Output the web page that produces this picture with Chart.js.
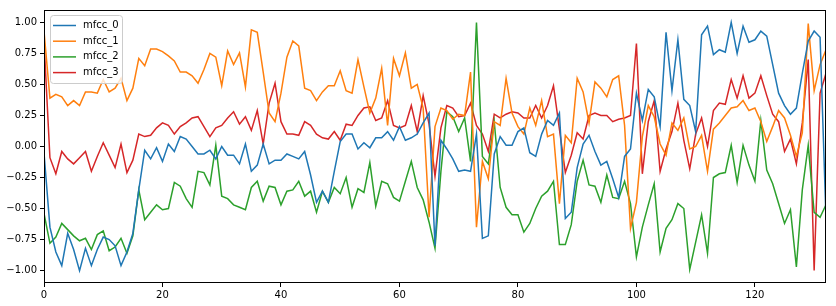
<!DOCTYPE html>
<html>
<head>
<meta charset="utf-8">
<script src="https://cdn.jsdelivr.net/npm/chart.js@4.4.1/dist/chart.umd.min.js"></script>
<style>
  html, body { margin: 0; padding: 0; background: #fff; }
  #wrap { width: 836px; height: 306px; }
</style>
</head>
<body>
<div id="wrap"><canvas id="mfccChart" width="836" height="306"></canvas></div>
<script>
// frame values (frames 0..132)
const mfcc0 = [-0.05,-0.65,-0.85,-0.96,-0.70,-0.83,-1.00,-0.82,-0.96,-0.83,-0.73,-0.75,-0.80,-0.96,-0.85,-0.70,-0.35,
  -0.03,-0.10,-0.01,-0.12,0.02,-0.04,0.08,0.06,0.00,-0.06,-0.06,-0.03,-0.10,0.00,-0.07,-0.07,-0.14,
  0.02,-0.20,-0.15,0.02,-0.14,-0.11,-0.11,-0.06,-0.08,-0.10,-0.04,-0.23,-0.45,-0.36,-0.45,-0.20,0.04,
  0.10,0.10,-0.02,0.03,-0.01,0.07,0.07,0.12,0.05,0.16,0.05,0.07,0.10,0.19,0.27,-0.80,
  0.05,-0.02,-0.10,-0.20,-0.19,-0.20,0.10,-0.74,-0.72,-0.06,0.08,0.01,0.01,0.12,0.15,-0.05,-0.08,
  0.10,0.21,0.17,0.27,-0.58,-0.53,-0.17,0.02,0.09,-0.04,-0.15,-0.12,-0.26,-0.41,-0.08,-0.02,0.43,
  0.21,0.46,0.40,0.16,0.92,0.45,0.86,0.38,0.33,0.12,0.90,0.97,0.74,0.78,0.76,1.00,
  0.75,0.97,0.84,0.86,0.93,0.89,0.66,0.43,0.33,0.26,0.31,0.59,0.85,0.93,0.88,-0.58];

const mfcc1 = [0.93,0.39,0.42,0.40,0.33,0.37,0.33,0.44,0.44,0.43,0.54,0.44,0.47,0.55,0.37,0.47,0.71,
  0.65,0.785,0.785,0.765,0.73,0.69,0.60,0.60,0.57,0.51,0.62,0.75,0.72,0.49,0.77,0.66,0.755,
  0.48,0.94,0.92,0.60,0.27,0.20,0.43,0.72,0.85,0.81,0.47,0.45,0.37,0.44,0.49,0.49,0.61,
  0.45,0.43,0.70,0.48,0.27,0.39,0.63,0.17,0.71,0.57,0.755,0.47,0.50,0.31,-0.57,0.16,
  0.31,0.29,0.22,0.26,0.25,0.60,-0.65,-0.12,-0.26,0.20,0.17,0.55,0.27,0.16,0.10,0.31,0.17,
  0.37,0.08,0.10,-0.46,0.09,0.03,0.55,0.44,0.19,0.52,0.47,0.40,0.54,0.57,0.17,-0.66,-0.45,
  0.08,0.33,0.24,0.02,-0.07,0.19,0.13,0.23,-0.02,0.00,0.09,-0.20,0.14,0.19,0.25,0.31,
  0.32,0.37,0.29,0.31,0.20,0.04,0.16,0.29,0.23,0.09,-0.08,0.11,0.99,0.45,0.66,0.78];

const mfcc2 = [-0.54,-0.78,-0.73,-0.62,-0.67,-0.72,-0.76,-0.74,-0.83,-0.71,-0.68,-0.84,-0.81,-0.74,-0.86,-0.72,-0.35,
  -0.59,-0.53,-0.47,-0.51,-0.50,-0.29,-0.32,-0.42,-0.49,-0.20,-0.21,-0.31,0.01,-0.40,-0.42,-0.47,-0.49,
  -0.51,-0.33,-0.28,-0.44,-0.32,-0.33,-0.47,-0.36,-0.35,-0.28,-0.40,-0.36,-0.53,-0.36,-0.45,-0.33,-0.38,
  -0.25,-0.49,-0.34,-0.37,-0.13,-0.48,-0.28,-0.30,-0.41,-0.44,-0.28,-0.12,-0.33,-0.43,-0.61,-0.82,
  -0.20,0.28,0.24,0.12,0.23,-0.12,1.00,-0.08,-0.14,0.20,-0.33,-0.49,-0.55,-0.55,-0.69,-0.62,-0.50,
  -0.40,-0.36,-0.28,-0.79,-0.79,-0.63,-0.28,-0.11,-0.31,-0.32,-0.45,-0.23,-0.41,-0.42,-0.28,-0.46,-0.89,
  -0.65,-0.47,-0.30,-0.85,-0.66,-0.59,-0.46,-0.50,-0.99,-0.77,-0.55,-0.86,-0.25,-0.22,-0.21,0.01,
  -0.29,0.01,-0.15,-0.28,0.21,-0.19,-0.30,-0.46,-0.62,-0.51,-0.97,-0.35,0.01,-0.53,-0.57,-0.47];

const mfcc3 = [0.85,-0.09,-0.22,-0.04,-0.10,-0.14,-0.09,-0.04,-0.20,-0.08,0.03,-0.07,-0.17,0.02,-0.21,-0.11,0.10,
  0.08,0.09,0.15,0.19,0.17,0.10,0.16,0.19,0.23,0.24,0.16,0.08,0.15,0.17,0.23,0.28,0.18,
  0.24,0.13,0.29,0.02,0.35,0.51,0.20,0.10,0.10,0.09,0.20,0.17,0.10,0.07,0.06,0.12,0.05,
  0.18,0.17,0.25,0.31,0.32,0.21,0.23,0.37,0.17,0.15,0.17,0.33,0.12,0.41,0.18,-0.24,
  0.15,0.33,0.31,0.24,0.25,0.35,0.17,0.10,-0.04,0.26,0.23,0.26,0.28,0.27,0.23,0.23,0.33,
  0.23,0.33,0.49,0.14,-0.21,-0.07,0.11,0.06,0.25,0.27,0.25,0.25,0.20,0.22,0.23,0.25,0.83,
  -0.22,0.20,0.37,-0.20,-0.02,0.12,0.35,0.05,-0.18,0.10,0.23,0.00,0.29,0.35,0.34,0.54,
  0.39,0.57,0.39,0.43,0.57,0.41,0.26,0.20,-0.04,0.06,-0.14,0.19,0.70,-1.00,0.43,0.59];

const seriesNames = ['mfcc_0', 'mfcc_1', 'mfcc_2', 'mfcc_3'];
const seriesColors = ['#1f77b4', '#ff7f0e', '#2ca02c', '#d62728'];
const xTicks = [0, 20, 40, 60, 80, 100, 120];
const yTicks = [-1, -0.75, -0.5, -0.25, 0, 0.25, 0.5, 0.75, 1];

const FONT = '"DejaVu Sans", sans-serif';

function toPoints(arr) {
    return arr.map((v, i) => ({ x: i, y: v }));
}

// box around the plot like matplotlib spines
const frame = {
    id: 'frame',
    afterDatasetsDraw(chart) {
        const a = chart.chartArea;
        const c = chart.ctx;
        c.save();
        c.strokeStyle = '#000';
        c.lineWidth = 1;
        c.strokeRect(a.left + 0.5, a.top + 0.5, a.right - a.left - 1, a.bottom - a.top - 1);
        c.restore();
    }
};

// legend inside the upper left corner
const legendBox = {
    id: 'legendBox',
    afterDraw(chart) {
        const a = chart.chartArea;
        const c = chart.ctx;
        const x = a.left + 6, y = a.top + 5, w = 72, h = 68;
        c.save();
        c.fillStyle = 'rgba(255,255,255,0.8)';
        c.strokeStyle = '#cccccc';
        c.lineWidth = 1;
        c.beginPath();
        c.roundRect(x + 0.5, y + 0.5, w, h, 3);
        c.fill();
        c.stroke();
        c.font = '10px ' + FONT;
        c.textBaseline = 'middle';
        chart.data.datasets.forEach((ds, i) => {
            const ly = y + 10.5 + i * 15.7;
            c.strokeStyle = ds.borderColor;
            c.lineWidth = 1.5;
            c.beginPath();
            c.moveTo(x + 3, ly);
            c.lineTo(x + 26, ly);
            c.stroke();
            c.fillStyle = '#000';
            c.fillText(ds.label, x + 33, ly);
        });
        c.restore();
    }
};

const allSeries = [mfcc0, mfcc1, mfcc2, mfcc3];

const ctx = document.getElementById('mfccChart').getContext('2d');
const chart = new Chart(ctx, {
    type: 'line',
    data: {
        datasets: allSeries.map((arr, i) => ({
            label: seriesNames[i],
            data: toPoints(arr),
            borderColor: seriesColors[i],
            backgroundColor: seriesColors[i],
            borderWidth: 1.5,
            pointRadius: 0,
            tension: 0,
            fill: false
        }))
    },
    options: {
        responsive: false,
        animation: false,
        devicePixelRatio: 1,
        layout: { padding: { top: 10, right: 10, left: 0, bottom: 0 } },
        plugins: { legend: { display: false }, tooltip: { enabled: false } },
        scales: {
            x: {
                type: 'linear',
                min: 0,
                max: 132,
                afterBuildTicks: s => { s.ticks = xTicks.map(v => ({ value: v })); },
                afterFit: s => { s.height = 23; },
                grid: { drawOnChartArea: false, drawTicks: true, tickLength: 4, color: '#000' },
                border: { display: false },
                ticks: { color: '#000', font: { family: FONT, size: 10 }, padding: 2, maxRotation: 0 }
            },
            y: {
                type: 'linear',
                min: -1.1,
                max: 1.1,
                afterBuildTicks: s => { s.ticks = yTicks.map(v => ({ value: v })); },
                afterFit: s => { s.width = 44; },
                grid: { drawOnChartArea: false, drawTicks: true, tickLength: 4, color: '#000' },
                border: { display: false },
                ticks: {
                    color: '#000',
                    font: { family: FONT, size: 10 },
                    padding: 3,
                    callback: v => v.toFixed(2).replace('-', '\u2212')
                }
            }
        }
    },
    plugins: [frame, legendBox]
});
</script>
</body>
</html>
